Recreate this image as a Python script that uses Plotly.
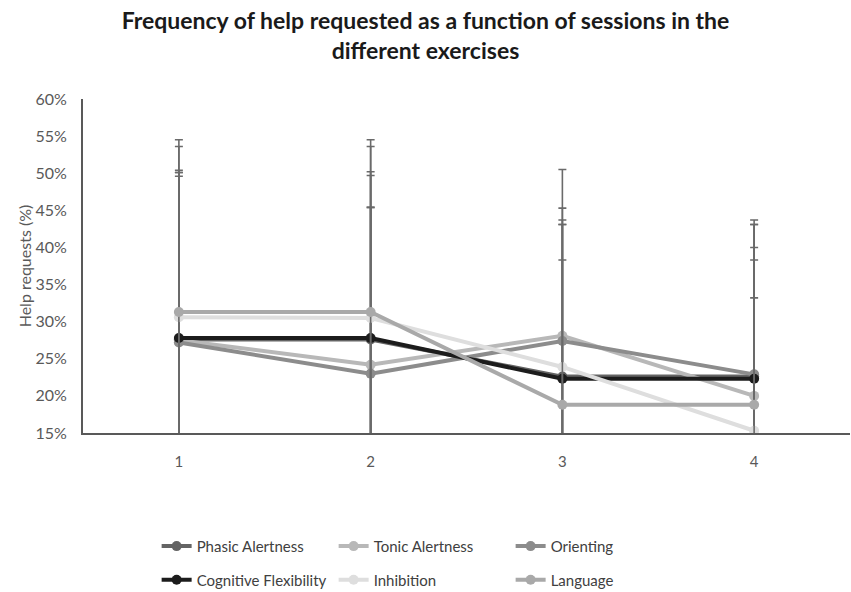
import plotly.graph_objects as go

sessions = ["1", "2", "3", "4"]

series_names = [
    "Phasic Alertness",
    "Tonic Alertness",
    "Orienting",
    "Cognitive Flexibility",
    "Inhibition",
    "Language",
]

# mean help requests (%) per session
phasic_alertness = [27.6, 27.6, 22.6, 22.6]
tonic_alertness = [27.5, 24.2, 28.1, 20.0]
orienting = [27.2, 23.0, 27.4, 22.9]
cognitive_flexibility = [27.8, 27.8, 22.3, 22.3]
inhibition = [30.6, 30.5, 23.9, 15.3]
language = [31.3, 31.3, 18.8, 18.8]

# standard deviation (%) per session
phasic_alertness_sd = [22.5, 22.1, 20.5, 20.5]
tonic_alertness_sd = [22.1, 21.2, 22.4, 20.0]
orienting_sd = [22.9, 22.4, 17.9, 20.8]
cognitive_flexibility_sd = [22.6, 22.4, 20.8, 20.8]
inhibition_sd = [23.0, 23.1, 19.8, 17.9]
language_sd = [23.2, 23.2, 19.5, 19.5]

means = [phasic_alertness, tonic_alertness, orienting,
         cognitive_flexibility, inhibition, language]
sds = [phasic_alertness_sd, tonic_alertness_sd, orienting_sd,
       cognitive_flexibility_sd, inhibition_sd, language_sd]
colors = ["#646464", "#b8b8b8", "#8c8c8c", "#1c1c1c", "#dedede", "#a9a9a9"]
# first three entries on the upper legend row, the rest on the lower row
legend_rows = ["legend", "legend", "legend", "legend2", "legend2", "legend2"]

font_family = "Lato, 'Open Sans', sans-serif"

fig = go.Figure()
for name, vals, sd, col, lg in zip(series_names, means, sds, colors, legend_rows):
    fig.add_trace(go.Scatter(
        x=sessions,
        y=vals,
        name=name,
        legend=lg,
        mode="lines+markers",
        line=dict(color=col, width=4),
        marker=dict(color=col, size=10),
        error_y=dict(type="data", array=sd, visible=True,
                     color="#6a6a6a", thickness=1.6, width=4),
    ))

legend_style = dict(
    orientation="h",
    xanchor="left",
    yanchor="top",
    xref="paper",
    yref="container",
    entrywidth=132,
    entrywidthmode="pixels",
    font=dict(size=15, color="#404040"),
    bgcolor="rgba(0,0,0,0)",
)

fig.update_layout(
    width=851,
    height=592,
    paper_bgcolor="white",
    plot_bgcolor="white",
    margin=dict(l=83, r=1, t=99, b=159),
    font=dict(family=font_family, color="#595959", size=16),
    title=dict(
        text="<b>Frequency of help requested as a function of sessions in the<br>different exercises</b>",
        x=0.5,
        xanchor="center",
        y=0.951,
        yanchor="middle",
        font=dict(family=font_family, size=23, color="#1a1a1a"),
    ),
    xaxis=dict(
        type="category",
        range=[-0.5, 3.5],
        showline=True,
        linecolor="#595959",
        linewidth=2,
        showgrid=False,
        ticks="",
        ticklabelstandoff=14,
        zeroline=False,
        tickfont=dict(size=15, color="#595959"),
    ),
    yaxis=dict(
        range=[15, 60],
        dtick=5,
        ticksuffix="%",
        showline=True,
        linecolor="#595959",
        linewidth=2,
        showgrid=False,
        ticks="",
        ticklabelstandoff=11,
        zeroline=False,
        title=dict(text="Help requests (%)", font=dict(size=16, color="#595959"), standoff=0),
        tickfont=dict(size=16, color="#595959"),
    ),
    legend=dict(x=0.096, y=0.105, **legend_style),
    legend2=dict(x=0.096, y=0.048, **legend_style),
)

fig.write_html("out.html")
